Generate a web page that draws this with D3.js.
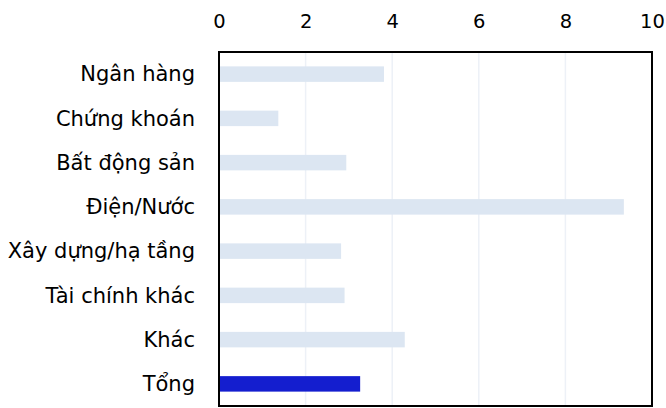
<!DOCTYPE html>
<html>
<head>
<meta charset="utf-8">
<script src="https://cdn.jsdelivr.net/npm/d3@7"></script>
<style>
  body { margin: 0; background: #fff; }
  text { font-family: "DejaVu Sans", sans-serif; }
</style>
</head>
<body>
<script>
  let categories = ["Ngân hàng", "Chứng khoán", "Bất động sản", "Điện/Nước", "Xây dựng/hạ tầng", "Tài chính khác", "Khác", "Tổng"];
  let values = [3.81, 1.37, 2.94, 9.35, 2.82, 2.90, 4.29, 3.26];
  let ticks = [0, 2, 4, 6, 8, 10];

  let width = 666, height = 408;
  let pLeft = 219, pRight = 652, pTop = 52, pBottom = 406;

  let svg = d3.select("body").append("svg")
    .attr("width", width).attr("height", height);

  let x = d3.scaleLinear().domain([0, 10]).range([pLeft, pRight]);
  let y = d3.scaleBand().domain(categories).range([pTop, pBottom]).paddingInner(0.65).paddingOuter(0.325);

  // grid lines
  svg.append("g")
    .selectAll("line")
    .data(ticks.slice(1, -1))
    .enter()
    .append("line")
      .attr("x1", d => x(d)).attr("x2", d => x(d))
      .attr("y1", pTop).attr("y2", pBottom)
      .style("stroke", "#edf1f7")
      .style("stroke-width", 1.5);

  // bars
  svg.append("g")
    .selectAll("rect")
    .data(values)
    .enter()
    .append("rect")
      .attr("x", x(0) + 1)
      .attr("y", (d, i) => y(categories[i]))
      .attr("width", d => x(d) - x(0) - 1)
      .attr("height", y.bandwidth())
      .style("fill", (d, i) => categories[i] == "Tổng" ? "#141ecf" : "#dce6f2");

  // frame
  svg.append("rect")
    .attr("x", pLeft).attr("y", pTop)
    .attr("width", pRight - pLeft).attr("height", pBottom - pTop)
    .style("fill", "none")
    .style("stroke", "black")
    .style("stroke-width", 2);

  // top axis labels
  let xAxis = d3.axisTop(x).tickValues(ticks).tickSize(0).tickPadding(0);
  let gx = svg.append("g")
    .attr("transform", "translate(0,28)")
    .call(xAxis);
  gx.select(".domain").remove();
  gx.selectAll("text")
    .attr("dy", 0)
    .style("font-size", "19.5px")
    .style("font-family", "DejaVu Sans, sans-serif")
    .style("fill", "black");

  // category labels
  let yAxis = d3.axisLeft(y).tickSize(0).tickPadding(0);
  let gy = svg.append("g")
    .attr("transform", "translate(195,0)")
    .call(yAxis);
  gy.select(".domain").remove();
  gy.selectAll("text")
    .attr("dy", "0.34em")
    .style("font-size", "21px")
    .style("font-family", "DejaVu Sans, sans-serif")
    .style("fill", "black");
</script>
</body>
</html>
